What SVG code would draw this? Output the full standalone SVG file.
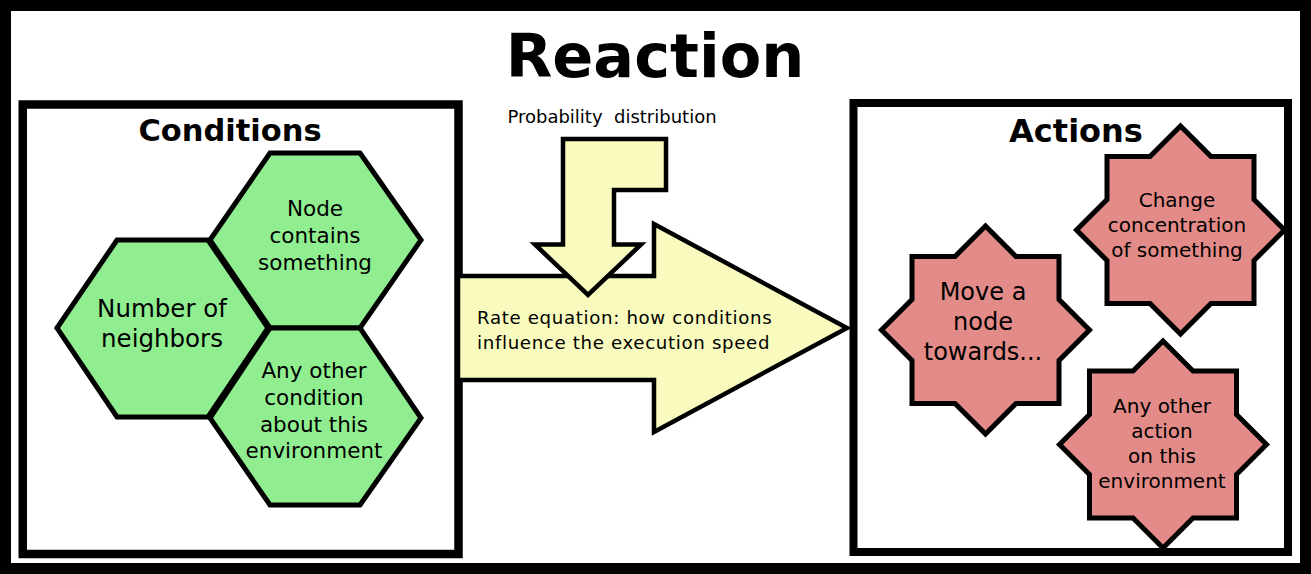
<svg xmlns="http://www.w3.org/2000/svg" width="1311" height="574" viewBox="0 0 1311 574">
<style>
text{font-family:"DejaVu Sans","Liberation Sans",sans-serif;fill:#000;text-anchor:middle}
.b{font-weight:bold}
.box{fill:#fff;stroke:#000}
.hex{fill:#90ee90;stroke:#000;stroke-width:5;stroke-linejoin:miter}
.star{fill:#e38b88;stroke:#000;stroke-width:5}
.arr{fill:#f8fbbd;stroke:#000;stroke-width:4.5}
</style>
<rect x="5.5" y="5.5" width="1300" height="563" fill="#fff" stroke="#000" stroke-width="11"/>
<text class="b" x="655" y="77" font-size="60.5">Reaction</text>

<g id="conditions">
<rect class="box" x="22.75" y="104.5" width="435.75" height="449.5" stroke-width="8.5"/>
<text class="b" x="230" y="141" font-size="30.5">Conditions</text>
</g>

<g id="actions">
<rect class="box" x="853.5" y="103" width="434.5" height="449" stroke-width="8"/>
<text class="b" x="1076" y="142" font-size="32">Actions</text>
</g>

<g id="connectors">
<polygon class="arr" points="458,276 654,276 654,224 847,328 654,432 654,380 458,380"/>
<polygon class="arr" points="563,139 666,139 666,190 614,190 614,244.5 641,244.5 588,295 535,244.5 563,244.5"/>
<text x="612" y="123" font-size="18" xml:space="preserve">Probability  distribution</text>
<text x="477" y="324" font-size="18.2" letter-spacing="0.65" style="text-anchor:start">Rate equation: how conditions</text>
<text x="477" y="349" font-size="18.2" letter-spacing="0.65" style="text-anchor:start">influence the execution speed</text>
</g>

<g id="hex-node">
<polygon class="hex" points="210,240 270,153 360,153 421,240 360,328 270,328"/>
<text x="315" y="216" font-size="21.5">Node</text>
<text x="315" y="243" font-size="21.5">contains</text>
<text x="315" y="270" font-size="21.5">something</text>
</g>
<g id="hex-neighbors">
<polygon class="hex" points="57,328 117,240 208,240 268,328 208,417 117,417"/>
<text x="162" y="317" font-size="24.5">Number of</text>
<text x="162" y="347" font-size="24.5">neighbors</text>
</g>
<g id="hex-other">
<polygon class="hex" points="210,418 270,328 360,328 421,418 360,505 270,505"/>
<text x="314" y="378" font-size="21.5">Any other</text>
<text x="314" y="405" font-size="21.5">condition</text>
<text x="314" y="432" font-size="21.5">about this</text>
<text x="314" y="458" font-size="21.5">environment</text>
</g>

<g id="star-move">
<polygon class="star" transform="translate(985.5,330)" points="104,0 73.5,30.5 73.5,73.5 30.5,73.5 0,104 -30.5,73.5 -73.5,73.5 -73.5,30.5 -104,0 -73.5,-30.5 -73.5,-73.5 -30.5,-73.5 0,-104 30.5,-73.5 73.5,-73.5 73.5,-30.5"/>
<text x="983" y="300" font-size="24">Move a</text>
<text x="983" y="330" font-size="24">node</text>
<text x="983" y="360" font-size="24">towards...</text>
</g>
<g id="star-change">
<polygon class="star" transform="translate(1180.5,230)" points="104,0 73.5,30.5 73.5,73.5 30.5,73.5 0,104 -30.5,73.5 -73.5,73.5 -73.5,30.5 -104,0 -73.5,-30.5 -73.5,-73.5 -30.5,-73.5 0,-104 30.5,-73.5 73.5,-73.5 73.5,-30.5"/>
<text x="1177" y="207" font-size="20">Change</text>
<text x="1177" y="232" font-size="20">concentration</text>
<text x="1177" y="257" font-size="20">of something</text>
</g>
<g id="star-other">
<polygon class="star" transform="translate(1163,444.5)" points="103.5,0 73.5,30 73.5,73.5 30,73.5 0,103.5 -30,73.5 -73.5,73.5 -73.5,30 -103.5,0 -73.5,-30 -73.5,-73.5 -30,-73.5 0,-103.5 30,-73.5 73.5,-73.5 73.5,-30"/>
<text x="1162" y="413" font-size="20">Any other</text>
<text x="1162" y="438" font-size="20">action</text>
<text x="1162" y="463" font-size="20">on this</text>
<text x="1162" y="488" font-size="20">environment</text>
</g>
</svg>
